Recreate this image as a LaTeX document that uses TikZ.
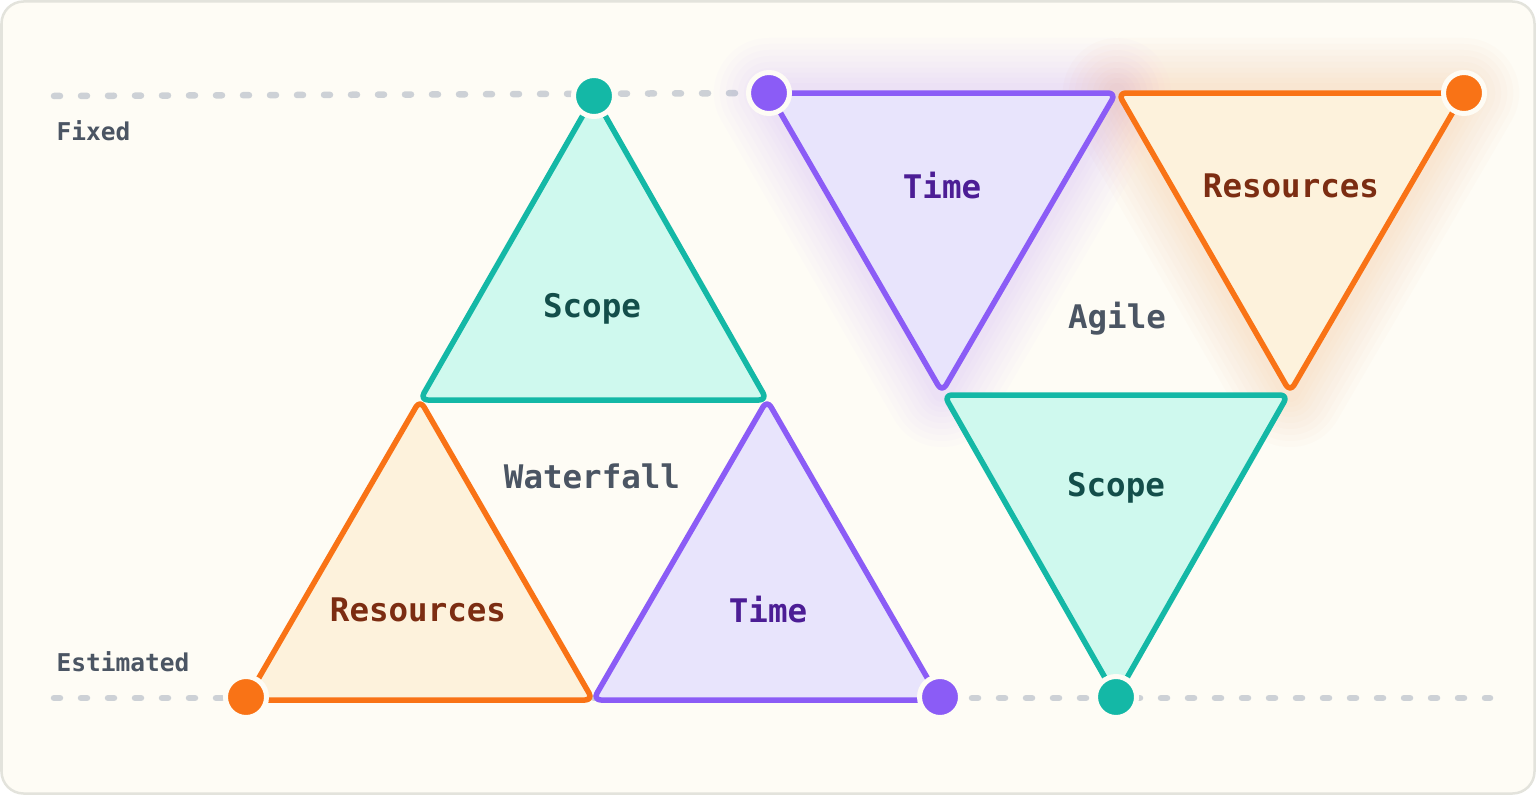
\documentclass[tikz,border=0pt]{standalone}
\usepackage{fontspec}
\setmonofont{DejaVu Sans Mono}
\usetikzlibrary{calc}
\definecolor{paper}{HTML}{FEFCF5}
\definecolor{frame}{HTML}{E3E3DC}
\definecolor{dashgray}{HTML}{CDD1D6}
\definecolor{tealline}{HTML}{14B8A6}
\definecolor{tealfill}{HTML}{CFF9EE}
\definecolor{tealtext}{HTML}{134E4A}
\definecolor{violetline}{HTML}{8B5CF6}
\definecolor{violetfill}{HTML}{E8E4FC}
\definecolor{violettext}{HTML}{4C1D95}
\definecolor{orangeline}{HTML}{F97316}
\definecolor{orangefill}{HTML}{FDF2DC}
\definecolor{orangetext}{HTML}{7C2D12}
\definecolor{labelgray}{HTML}{4B5563}

\begin{document}
\begin{tikzpicture}[x=1bp,y=-1bp,
  dot/.style = {circle,fill=#1,draw=paper,line width=5bp,minimum size=41bp,inner sep=0pt},
  tri/.style = {line width=5.5bp,rounded corners=8bp,line join=round},
  big/.style = {font=\ttfamily\bfseries\fontsize{32.5bp}{38bp}\selectfont},
  side/.style = {font=\ttfamily\bfseries\fontsize{24.5bp}{30bp}\selectfont,text=labelgray,anchor=west},
  guide/.style = {dashgray,line width=6.5bp,line cap=round,dash pattern=on 6bp off 21bp},
  glow/.style = {#1,line width=\w bp,opacity=0.014,line join=round}
  ]
	\useasboundingbox (0,0) rectangle (1536,795);
	\draw[frame,fill=paper,line width=2.5bp,rounded corners=22bp] (1.5,1.5) rectangle (1534.5,793.5);

	% waterfall corners
	\coordinate (@ws1) at (594,96);
	\coordinate (@ws2) at (420,400);
	\coordinate (@ws3) at (767,400);
	\coordinate (@wr1) at (246,700);
	\coordinate (@wr2) at (593,700);
	\coordinate (@wt2) at (940,700);

	% agile corners
	\coordinate (@at1) at (769,93);
	\coordinate (@at2) at (1116,93);
	\coordinate (@at3) at (942,392);
	\coordinate (@ar1) at (1118,93);
	\coordinate (@ar2) at (1464,93);
	\coordinate (@ar3) at (1290,392);
	\coordinate (@as1) at (944,395);
	\coordinate (@as2) at (1288,395);
	\coordinate (@as3) at (1116,697);

	\coordinate (@f0) at (54,96);
	\coordinate (@e0) at (54,698);
	\coordinate (@e1) at (1490,698);

	\draw[guide] (@f0) -- (@at1);
	\draw[guide] (@e0) -- (@e1);

	\foreach \w in {110,98,86,74,62,50,40,30,20} {
		\draw[glow=violetline] (@at1) -- (@at2) -- (@at3) -- cycle;
		\draw[glow=orangeline] (@ar1) -- (@ar2) -- (@ar3) -- cycle;
	}

	\draw[tri,draw=tealline,fill=tealfill] (@ws1) -- (@ws3) -- (@ws2) -- cycle;
	\draw[tri,draw=orangeline,fill=orangefill] (@ws2) -- (@wr2) -- (@wr1) -- cycle;
	\draw[tri,draw=violetline,fill=violetfill] (@ws3) -- (@wt2) -- (@wr2) -- cycle;

	\draw[tri,draw=violetline,fill=violetfill] (@at1) -- (@at2) -- (@at3) -- cycle;
	\draw[tri,draw=orangeline,fill=orangefill] (@ar1) -- (@ar2) -- (@ar3) -- cycle;
	\draw[tri,draw=tealline,fill=tealfill] (@as1) -- (@as2) -- (@as3) -- cycle;

	\node[dot=tealline] (d1) at (@ws1) {};
	\node[dot=violetline] (d2) at (@at1) {};
	\node[dot=orangeline] (d3) at (@ar2) {};
	\node[dot=orangeline] (d4) at (246,697) {};
	\node[dot=violetline] (d5) at (940,697) {};
	\node[dot=tealline] (d6) at (@as3) {};

	\node[side] (fixed) at (53,131) {Fixed};
	\node[side] (estimated) at (53,662) {Estimated};

	\node[big,text=tealtext] (wscope) at (592,309) {Scope};
	\node[big,text=labelgray] (waterfall) at (592,476) {Waterfall};
	\node[big,text=orangetext] (wres) at (418,610) {Resources};
	\node[big,text=violettext] (wtime) at (768,610) {Time};

	\node[big,text=violettext] (atime) at (942,186) {Time};
	\node[big,text=orangetext] (ares) at (1291,186) {Resources};
	\node[big,text=labelgray] (agile) at (1117,319) {Agile};
	\node[big,text=tealtext] (ascope) at (1116,488) {Scope};

\end{tikzpicture}
\end{document}
